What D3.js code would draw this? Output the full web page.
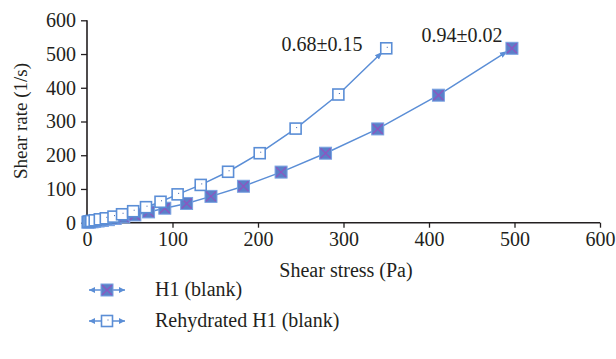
<!DOCTYPE html>
<html>
<head>
<meta charset="utf-8">
<script src="https://cdn.jsdelivr.net/npm/d3@7"></script>
<style>
  html, body { margin: 0; padding: 0; background: #fff; }
  svg { display: block; }
  text { font-family: "Liberation Serif", "DejaVu Serif", serif; fill: #231f20; }
</style>
</head>
<body>
<svg id="chart" width="616" height="359"></svg>
<script>
// Flow curves: shear stress (Pa) against shear rate (1/s)
const h1Stress = [497, 411, 340, 279, 227, 183, 145, 116.5, 91, 72, 56, 43, 33, 25, 18, 13, 9, 6, 3, 1];
const h1Rate   = [517, 378, 278, 206, 150, 108, 78, 57, 43, 32, 23, 17, 12.5, 9, 6.7, 5, 3.6, 2.6, 1.9, 1.4];
const rehyStress = [350, 294, 244, 202, 165, 133, 106, 86, 69, 54, 41, 31, 22, 15, 9, 5, 3, 1.5];
const rehyRate   = [517, 380, 279, 206, 151, 112, 84, 62, 46, 34, 25, 18, 13, 10, 7, 5, 3.6, 2.6];
const seriesNames = ["H1 (blank)", "Rehydrated H1 (blank)"];
const indexLabels = ["0.94\u00b10.02", "0.68\u00b10.15"];
const xTicks = [0, 100, 200, 300, 400, 500, 600];
const yTicks = [0, 100, 200, 300, 400, 500, 600];

const lineColor = "#5b8ed6";
const fillColor = "#5a80c8";
const edgeColor = "#79a2e2";
const crossColor = "#8d55c0";
const FONT = "20px";

const svg = d3.select("#chart");
const x = d3.scaleLinear().domain([0, 600]).range([87, 600]);
const y = d3.scaleLinear().domain([0, 600]).range([222.7, 20.3]);

// arrowheads
const defs = svg.append("defs");
defs.append("marker").attr("id", "arrowEnd")
  .attr("markerUnits", "userSpaceOnUse")
  .attr("viewBox", "0 -4 8 8").attr("refX", 13).attr("refY", 0)
  .attr("markerWidth", 8).attr("markerHeight", 8).attr("orient", "auto")
  .append("path").attr("d", "M0,-3L8,0L0,3Z").attr("fill", lineColor);
defs.append("marker").attr("id", "arrowStart")
  .attr("markerUnits", "userSpaceOnUse")
  .attr("viewBox", "0 -4 8 8").attr("refX", 13).attr("refY", 0)
  .attr("markerWidth", 8).attr("markerHeight", 8).attr("orient", "auto-start-reverse")
  .append("path").attr("d", "M0,-3L8,0L0,3Z").attr("fill", lineColor);

// axes
const yAxis = svg.append("g").attr("transform", `translate(${x(0)},0)`)
  .call(d3.axisLeft(y).tickValues(yTicks).tickSize(6).tickPadding(5).tickFormat(d3.format("d")));
const xAxis = svg.append("g").attr("transform", `translate(0,${y(0)})`)
  .call(d3.axisBottom(x).tickValues(xTicks).tickSize(5).tickPadding(4).tickFormat(d3.format("d")));
[xAxis, yAxis].forEach(g => {
  g.select(".domain").attr("stroke", "#231f20").attr("stroke-width", 1.6);
  g.selectAll(".tick line").attr("stroke", "#231f20").attr("stroke-width", 1.3);
  g.selectAll(".tick text").style("font-family", '"Liberation Serif", serif').style("font-size", FONT).attr("fill", "#231f20");
});
xAxis.selectAll(".domain").attr("d", `M${x(0)},0H${x(600)}`);
yAxis.selectAll(".domain").attr("d", `M0,${y(0)}V${y(600)}`);

svg.append("text").attr("x", 346).attr("y", 277).attr("text-anchor", "middle")
  .style("font-size", FONT).text("Shear stress (Pa)");
svg.append("text").attr("transform", "translate(27,121) rotate(-90)").attr("text-anchor", "middle")
  .style("font-size", "19px").text("Shear rate (1/s)");

const line = d3.line().x(d => x(d[0])).y(d => y(d[1]));
const h1Pts = h1Stress.map((v, i) => [v, h1Rate[i]]).reverse();
const rePts = rehyStress.map((v, i) => [v, rehyRate[i]]).reverse();

function drawLine(pts) {
  svg.append("path").datum(pts).attr("d", line).attr("fill", "none")
    .attr("stroke", lineColor).attr("stroke-width", 1.5)
    .attr("marker-end", "url(#arrowEnd)").attr("marker-start", "url(#arrowStart)");
}
drawLine(h1Pts);
drawLine(rePts);

const S = 12; // marker size
function filledMarker(g, cx, cy) {
  g.append("rect").attr("x", cx - S / 2).attr("y", cy - S / 2).attr("width", S).attr("height", S)
    .attr("fill", fillColor).attr("stroke", edgeColor).attr("stroke-width", 1);
  g.append("path").attr("d", `M${cx - S/2 + 1},${cy - S/2 + 1}L${cx + S/2 - 1},${cy + S/2 - 1}M${cx + S/2 - 1},${cy - S/2 + 1}L${cx - S/2 + 1},${cy + S/2 - 1}`)
    .attr("stroke", crossColor).attr("stroke-width", 1.3);
}
function openMarker(g, cx, cy) {
  g.append("rect").attr("x", cx - S / 2 + 0.5).attr("y", cy - S / 2 + 0.5).attr("width", S - 1).attr("height", S - 1)
    .attr("fill", "#fff").attr("stroke", lineColor).attr("stroke-width", 1.6);
  g.append("rect").attr("x", cx + 0.5).attr("y", cy - 1.5).attr("width", 1).attr("height", 1).attr("fill", "#3d5fa8");
}

const mg = svg.append("g");
h1Pts.forEach(d => filledMarker(mg, x(d[0]), y(d[1])));
rePts.forEach(d => openMarker(mg, x(d[0]), y(d[1])));

// slope annotations next to the last points
svg.append("text").attr("x", 462).attr("y", 42).attr("text-anchor", "middle")
  .style("font-size", FONT).text(indexLabels[0]);
svg.append("text").attr("x", 322).attr("y", 51).attr("text-anchor", "middle")
  .style("font-size", FONT).text(indexLabels[1]);

// legend
const legendRows = [290, 321];
seriesNames.forEach((name, i) => {
  const cy = legendRows[i];
  const g = svg.append("g");
  g.append("line").attr("x1", 89).attr("x2", 125).attr("y1", cy).attr("y2", cy)
    .attr("stroke", lineColor).attr("stroke-width", 1.5);
  g.append("path").attr("d", `M89,${cy}l6,-3v6z`).attr("fill", lineColor);
  g.append("path").attr("d", `M125,${cy}l-6,-3v6z`).attr("fill", lineColor);
  if (i === 0) filledMarker(g, 107, cy); else openMarker(g, 107, cy);
  g.append("text").attr("x", 155).attr("y", cy + 6).style("font-size", FONT).text(name);
});
</script>
</body>
</html>
